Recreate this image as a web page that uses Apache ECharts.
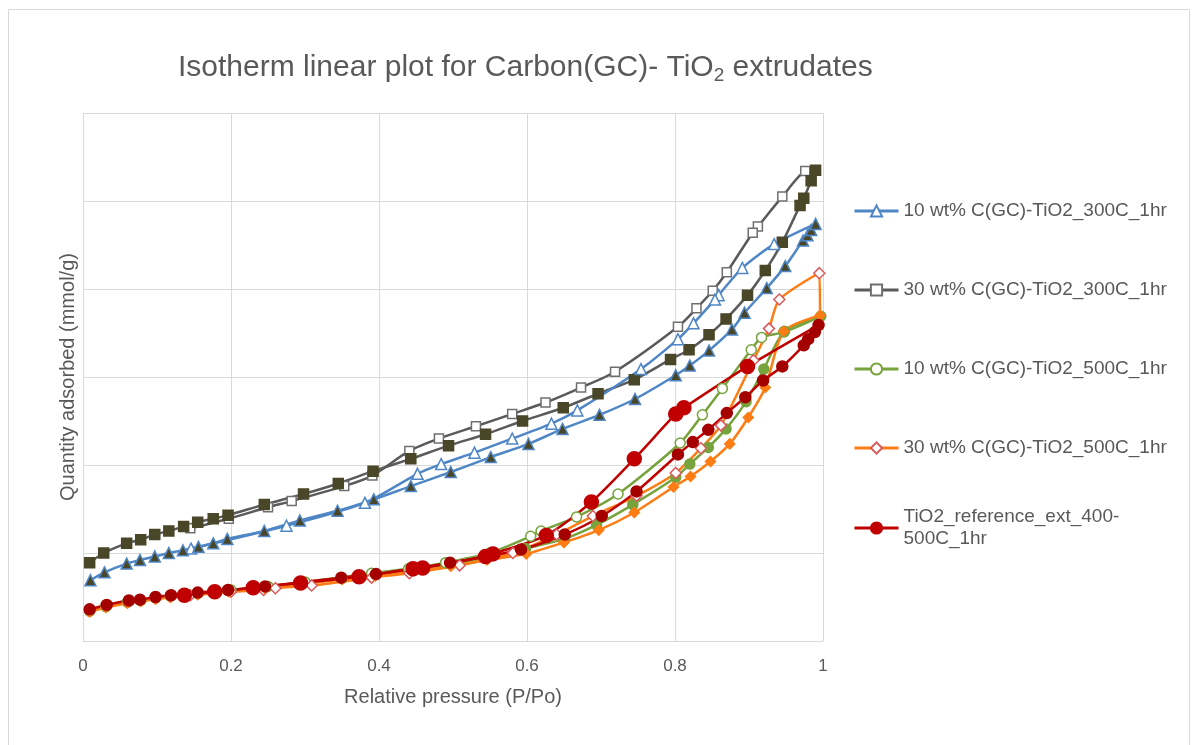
<!DOCTYPE html>
<html>
<head>
<meta charset="utf-8">
<title>Isotherm linear plot</title>
<script src="https://cdn.jsdelivr.net/npm/echarts@6/dist/echarts.min.js"></script>
<style>
  html, body { margin: 0; padding: 0; background: #fff; }
  #chart { width: 1198px; height: 745px; }
</style>
</head>
<body>
<div id="chart"></div>
<script>
// relative pressure (P/Po) vs quantity adsorbed
var xTicks = [0, 0.2, 0.4, 0.6, 0.8, 1];
var seriesNames = [
  "10 wt% C(GC)-TiO2_300C_1hr",
  "30 wt% C(GC)-TiO2_300C_1hr",
  "10 wt% C(GC)-TiO2_500C_1hr",
  "30 wt% C(GC)-TiO2_500C_1hr",
  "TiO2_reference_ext_400-500C_1hr"
];

// adsorption branches (filled markers) end at the top point,
// desorption branches (hollow markers) start from there
var blue300Ads = [[0.010,0.69],[0.029,0.78],[0.059,0.88],[0.077,0.92],[0.097,0.96],[0.116,1.00],[0.135,1.03],[0.156,1.07],[0.176,1.11],[0.195,1.16],[0.245,1.25],[0.293,1.37],[0.344,1.48],[0.393,1.61],[0.443,1.76],[0.497,1.92],[0.551,2.09],[0.602,2.24],[0.648,2.41],[0.698,2.57],[0.746,2.75],[0.801,3.02],[0.820,3.13],[0.846,3.30],[0.877,3.54],[0.894,3.73],[0.924,4.01],[0.949,4.26],[0.973,4.55],[0.979,4.61],[0.984,4.67],[0.990,4.74]];
var blue300Des = [[0.934,4.51],[0.891,4.24],[0.859,3.93],[0.854,3.88],[0.825,3.61],[0.804,3.43],[0.754,3.09],[0.668,2.62],[0.633,2.47],[0.580,2.30],[0.529,2.14],[0.484,2.01],[0.452,1.90],[0.381,1.57],[0.275,1.31],[0.146,1.05]];

var grey300Ads = [[0.009,0.89],[0.028,1.00],[0.059,1.11],[0.078,1.15],[0.097,1.21],[0.116,1.25],[0.136,1.30],[0.155,1.35],[0.176,1.39],[0.196,1.43],[0.245,1.55],[0.298,1.67],[0.345,1.79],[0.392,1.93],[0.443,2.07],[0.494,2.22],[0.544,2.35],[0.594,2.50],[0.649,2.65],[0.696,2.81],[0.745,2.97],[0.794,3.20],[0.819,3.31],[0.846,3.48],[0.869,3.66],[0.898,3.93],[0.922,4.21],[0.945,4.53],[0.969,4.95],[0.974,5.03],[0.984,5.23],[0.990,5.35]];
var grey300Des = [[0.976,5.34],[0.945,5.05],[0.912,4.71],[0.905,4.64],[0.870,4.19],[0.851,3.98],[0.829,3.78],[0.804,3.57],[0.719,3.06],[0.673,2.88],[0.625,2.71],[0.580,2.58],[0.531,2.44],[0.481,2.30],[0.441,2.16],[0.391,1.88],[0.353,1.76],[0.282,1.59],[0.250,1.52],[0.197,1.39],[0.145,1.28]];

var green500Ads = [[0.009,0.34],[0.031,0.39],[0.060,0.44],[0.078,0.46],[0.098,0.49],[0.118,0.51],[0.137,0.53],[0.155,0.54],[0.177,0.56],[0.197,0.575],[0.246,0.615],[0.296,0.66],[0.350,0.71],[0.395,0.755],[0.447,0.81],[0.497,0.87],[0.546,0.95],[0.598,1.05],[0.650,1.16],[0.694,1.32],[0.743,1.55],[0.801,1.86],[0.820,2.01],[0.845,2.20],[0.869,2.41],[0.896,2.72],[0.920,3.09],[0.948,3.52],[0.997,3.69]];
var green500Des = [[0.947,3.51],[0.917,3.45],[0.903,3.31],[0.864,2.87],[0.837,2.57],[0.807,2.25],[0.723,1.67],[0.667,1.41],[0.619,1.25],[0.605,1.19],[0.550,1.00],[0.490,0.89],[0.440,0.82],[0.390,0.77],[0.300,0.67],[0.250,0.62],[0.200,0.58],[0.140,0.53]];

var orange500Ads = [[0.009,0.33],[0.031,0.38],[0.060,0.43],[0.078,0.45],[0.098,0.475],[0.118,0.495],[0.137,0.51],[0.155,0.525],[0.177,0.545],[0.197,0.56],[0.246,0.60],[0.296,0.645],[0.350,0.70],[0.395,0.74],[0.447,0.795],[0.497,0.85],[0.546,0.92],[0.599,0.99],[0.650,1.12],[0.697,1.26],[0.745,1.46],[0.798,1.75],[0.821,1.87],[0.848,2.04],[0.874,2.24],[0.899,2.54],[0.922,2.88],[0.947,3.52],[0.996,3.70]];
var orange500Des = [[0.995,4.18],[0.941,3.88],[0.927,3.55],[0.906,3.19],[0.862,2.45],[0.835,2.19],[0.801,1.91],[0.748,1.65],[0.689,1.42],[0.640,1.21],[0.581,1.00],[0.509,0.86],[0.441,0.77],[0.390,0.72],[0.309,0.63],[0.260,0.60],[0.244,0.58],[0.200,0.56],[0.145,0.52]];

var refAds = [[0.009,0.36],[0.032,0.41],[0.062,0.46],[0.077,0.47],[0.098,0.50],[0.119,0.52],[0.155,0.55],[0.196,0.58],[0.246,0.62],[0.349,0.72],[0.396,0.76],[0.496,0.89],[0.592,1.04],[0.651,1.21],[0.701,1.42],[0.748,1.70],[0.804,2.12],[0.824,2.26],[0.845,2.40],[0.870,2.59],[0.895,2.77],[0.919,2.96],[0.945,3.12],[0.974,3.36],[0.980,3.43],[0.989,3.51],[0.994,3.59]];
var refDes = [[0.898,3.12],[0.812,2.65],[0.801,2.58],[0.745,2.07],[0.687,1.58],[0.626,1.20],[0.554,0.99],[0.544,0.96],[0.459,0.83],[0.446,0.82],[0.373,0.73],[0.294,0.66],[0.230,0.605],[0.178,0.56],[0.137,0.52]];

var textColor = "#595959";
var gridColor = "#d9d9d9";
var fontName = "Liberation Sans";

function branch(name, pts, lineColor, sym, size, fill, border, joinFrom) {
  var data = pts.slice();
  if (joinFrom) {
    // start the desorption line from the last adsorption point, without a marker
    data = [{ value: joinFrom[joinFrom.length - 1], symbol: "none" }].concat(data);
  }
  return {
    name: name,
    type: "line",
    data: data,
    smooth: 0.25,
    symbol: sym,
    symbolSize: size,
    lineStyle: { color: lineColor, width: 2.5 },
    itemStyle: { color: fill, borderColor: border, borderWidth: 1.5 },
    emphasis: { disabled: true }
  };
}

var series = [
  branch(seriesNames[1], grey300Des, "#5a5a5a", "rect", 9, "#ffffff", "#6f6f6f", grey300Ads),
  branch(seriesNames[1], grey300Ads, "#5a5a5a", "rect", 10, "#4a4628", "#4a4628"),
  branch(seriesNames[0], blue300Des, "#4f86c6", "triangle", 11, "#ffffff", "#4f86c6", blue300Ads),
  branch(seriesNames[0], blue300Ads, "#4f86c6", "triangle", 11, "#4a4628", "#4f86c6"),
  branch(seriesNames[2], green500Des, "#77a33c", "circle", 10, "#ffffff", "#77a33c", green500Ads),
  branch(seriesNames[2], green500Ads, "#77a33c", "circle", 10, "#77a33c", "#77a33c"),
  branch(seriesNames[3], orange500Des, "#fd7c14", "diamond", 11, "#ffffff", "#d9595c", orange500Ads),
  branch(seriesNames[3], orange500Ads, "#fd7c14", "diamond", 10, "#fd7c14", "#fd7c14"),
  branch(seriesNames[4], refDes, "#c00000", "circle", 14, "#c00000", "#c00000", refAds),
  branch(seriesNames[4], refAds, "#c00000", "circle", 11, "#a50000", "#a50000")
];

var legendTops = [200, 279, 358, 437, 495];
var legends = seriesNames.map(function (n, i) {
  var last = i === seriesNames.length - 1;
  return {
    data: [n],
    orient: "vertical",
    left: 853,
    top: legendTops[i],
    padding: 0,
    itemWidth: 44,
    itemHeight: 14,
    selectedMode: false,
    lineStyle: { width: 3 },
    formatter: function (name) {
      return last ? "TiO2_reference_ext_400-\n500C_1hr" : name;
    },
    textStyle: {
      fontSize: 19,
      fontFamily: fontName,
      color: textColor,
      lineHeight: 22,
      padding: last ? [22, 0, 0, 0] : 0
    }
  };
});

var chart = echarts.init(document.getElementById("chart"));
chart.setOption({
  animation: false,
  backgroundColor: "#ffffff",
  title: {
    text: "Isotherm linear plot for Carbon(GC)- TiO{sub|2} extrudates",
    left: 178,
    top: 50,
    padding: 0,
    textStyle: {
      fontSize: 30,
      fontWeight: "normal",
      fontFamily: fontName,
      color: textColor,
      rich: {
        sub: { fontSize: 19, fontFamily: fontName, color: textColor, verticalAlign: "bottom", padding: [16, 0, 0, 0] }
      }
    }
  },
  graphic: [{
    type: "rect",
    silent: true,
    shape: { x: 8.5, y: 9.5, width: 1181, height: 780 },
    style: { fill: "none", stroke: gridColor, lineWidth: 1 }
  }],
  legend: legends,
  grid: { left: 83, top: 113, width: 740, height: 528 },
  xAxis: {
    type: "value",
    min: xTicks[0],
    max: xTicks[xTicks.length - 1],
    interval: 0.2,
    name: "Relative pressure (P/Po)",
    nameLocation: "middle",
    nameGap: 46,
    nameTextStyle: { fontSize: 20, fontFamily: fontName, color: textColor },
    axisLine: { lineStyle: { color: gridColor } },
    axisTick: { show: false },
    axisLabel: { fontSize: 17, fontFamily: fontName, color: textColor, margin: 17 },
    splitLine: { lineStyle: { color: gridColor } }
  },
  yAxis: {
    type: "value",
    min: 0,
    max: 6,
    interval: 1,
    name: "Quantity adsorbed (mmol/g)",
    nameLocation: "middle",
    nameGap: 5,
    nameTextStyle: { fontSize: 20, fontFamily: fontName, color: textColor },
    axisLine: { show: false },
    axisTick: { show: false },
    axisLabel: { show: false },
    splitLine: { lineStyle: { color: gridColor } }
  },
  series: series
});
</script>
</body>
</html>
